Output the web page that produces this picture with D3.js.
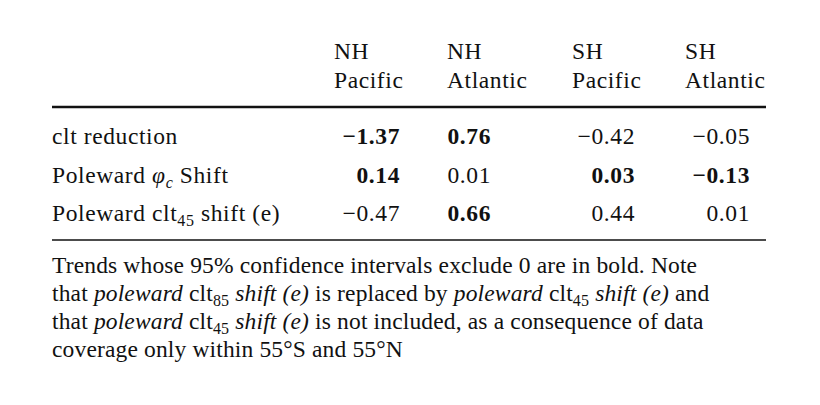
<!DOCTYPE html>
<html><head><meta charset="utf-8">
<script src="https://cdn.jsdelivr.net/npm/d3@7"></script>
<style>body{margin:0;background:#fff}text{font-family:"Liberation Serif","DejaVu Serif",serif;fill:#111}</style>
</head><body>
<svg id="c" width="820" height="405"></svg>
<script>
const colTop = ["NH","NH","SH","SH"];
const colBottom = ["Pacific","Atlantic","Pacific","Atlantic"];
const rowNames = ["clt reduction","Poleward φc Shift","Poleward clt45 shift (e)"];
const values = [[-1.37,0.76,-0.42,-0.05],[0.14,0.01,0.03,-0.13],[-0.47,0.66,0.44,0.01]];
const bold = [[1,1,0,0],[1,0,1,1],[0,1,0,0]];
const footnote = [
 [["Trends whose 95% confidence intervals exclude 0 are in bold. Note",""]],
 [["that ",""],["poleward","i"],[" clt",""],["85","sub"],[" shift (e)","i"],[" is replaced by ",""],["poleward","i"],[" clt",""],["45","sub"],[" shift (e)","i"],[" and",""]],
 [["that ",""],["poleward","i"],[" clt",""],["45","sub"],[" shift (e)","i"],[" is not included, as a consequence of data",""]],
 [["coverage only within 55°S and 55°N",""]]
];
const svg = d3.select("#c");
const fs = 23.5;
const ls = "0.6px";
const colLeft = d3.scaleOrdinal().domain(d3.range(4)).range([334,447,572,685]);
const colRight = d3.scaleOrdinal().domain(d3.range(4)).range([400,491,635,750]);
const rowY = d3.scalePoint().domain(d3.range(3)).range([144,221]);
const fmt = v => (v<0?"−":"")+Math.abs(v).toFixed(2);
const hdr = svg.append("g");
colTop.forEach((t,i)=>{
  hdr.append("text").attr("x",colLeft(i)).attr("y",59).attr("font-size",fs).attr("letter-spacing",ls).text(t);
  hdr.append("text").attr("x",colLeft(i)).attr("y",88).attr("font-size",fs).attr("letter-spacing",ls).text(colBottom[i]);
});
svg.append("line").attr("x1",52).attr("x2",766).attr("y1",107).attr("y2",107).attr("stroke","#111").attr("stroke-width",2.5);
svg.append("line").attr("x1",52).attr("x2",766).attr("y1",240).attr("y2",240).attr("stroke","#111").attr("stroke-width",1.5);
rowNames.forEach((r,i)=>{
  const t = svg.append("text").attr("x",52).attr("y",rowY(i)).attr("font-size",fs).attr("letter-spacing",ls);
  if(i===0) t.text(r);
  else if(i===1){
    t.append("tspan").text("Poleward ");
    t.append("tspan").attr("font-style","italic").text("φ");
    t.append("tspan").attr("font-style","italic").attr("font-size",16).attr("dy",5).text("c");
    t.append("tspan").attr("dy",-5).text(" Shift");
  } else {
    t.append("tspan").text("Poleward clt");
    t.append("tspan").attr("font-size",16).attr("dy",5).text("45");
    t.append("tspan").attr("dy",-5).text(" shift (e)");
  }
  values[i].forEach((v,j)=>{
    svg.append("text").attr("x",colRight(j)).attr("y",rowY(i)).attr("font-size",fs).attr("letter-spacing",ls)
      .attr("text-anchor","end").attr("font-weight",bold[i][j]?"bold":"normal").text(fmt(v));
  });
});
const fy = d3.scalePoint().domain(d3.range(4)).range([273,357]);
footnote.forEach((line,i)=>{
  const t = svg.append("text").attr("x",52).attr("y",fy(i)).attr("font-size",fs).attr("letter-spacing","0.15px");
  let shifted=false;
  line.forEach(([s,st])=>{
    const sp=t.append("tspan").text(s);
    if(st==="i") sp.attr("font-style","italic");
    if(st==="sub"){sp.attr("font-size",16).attr("dy",5);shifted=true;}
    else if(shifted){sp.attr("dy",-5);shifted=false;}
  });
});
</script>
</body></html>
